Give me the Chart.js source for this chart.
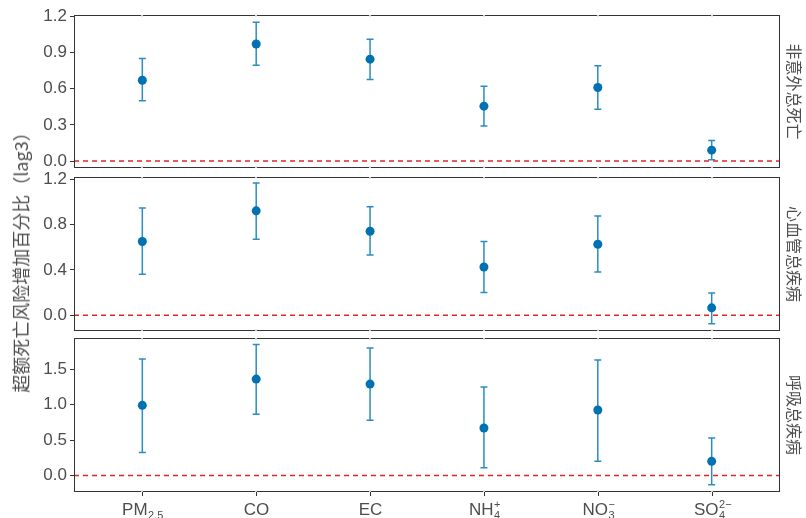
<!DOCTYPE html>
<html>
<head>
<meta charset="utf-8">
<script src="https://cdn.jsdelivr.net/npm/chart.js@4.4.1/dist/chart.umd.min.js"></script>
<style>
  body { margin: 0; background: #fff; }
  #wrap { position: relative; width: 806px; height: 518px; }
  .panel { position: absolute; left: 0; width: 806px; }
  #ytitle {
    position: absolute; left: 20px; top: 258px;
    transform: translate(-50%, -50%) rotate(-90deg);
    white-space: nowrap;
    font: 18px "Noto Sans CJK SC", sans-serif; color: #4d4d4d;
  }
</style>
</head>
<body>
<div id="wrap">
  <div class="panel" style="top:0px;height:182px"><canvas id="c1"></canvas></div>
  <div class="panel" style="top:163px;height:182px"><canvas id="c2"></canvas></div>
  <div class="panel" style="top:324px;height:194px"><canvas id="c3"></canvas></div>
  <div id="ytitle">超额死亡风险增加百分比（lag3）</div>
</div>
<script>
// categories (drawn with sub/superscripts)
const labelBase = ['PM', 'CO', 'EC', 'NH', 'NO', 'SO'];
const labelSub = ['2.5', '', '', '4', '3', '4'];
const labelSup = ['', '', '', '+', '−', '2−'];

// 非意外总死亡
const estAll = [0.67, 0.97, 0.845, 0.455, 0.61, 0.09];
const lowAll = [0.50, 0.795, 0.675, 0.29, 0.43, 0.01];
const highAll = [0.85, 1.15, 1.01, 0.62, 0.79, 0.17];
// 心血管总疾病
const estCvd = [0.65, 0.92, 0.74, 0.425, 0.625, 0.065];
const lowCvd = [0.36, 0.67, 0.53, 0.20, 0.38, -0.075];
const highCvd = [0.945, 1.165, 0.955, 0.65, 0.875, 0.195];
// 呼吸总疾病
const estResp = [0.99, 1.36, 1.29, 0.67, 0.925, 0.20];
const lowResp = [0.325, 0.865, 0.78, 0.11, 0.20, -0.13];
const highResp = [1.645, 1.85, 1.80, 1.25, 1.63, 0.53];

const yTicks1 = [0, 0.3, 0.6, 0.9, 1.2];
const yTicks2 = [0, 0.4, 0.8, 1.2];
const yTicks3 = [0, 0.5, 1.0, 1.5];

const latin = '"Liberation Sans", Arial, sans-serif';
const cjk = '"Noto Sans CJK SC", sans-serif';
const textGray = '#4d4d4d';

const panelDeco = {
    id: 'panelDeco',
    beforeDatasetsDraw(chart, args, opts) {
        const ctx = chart.ctx;
        const a = chart.chartArea;
        const xs = chart.scales.x, ys = chart.scales.y;
        ctx.save();
        // zero reference line
        const y0 = ys.getPixelForValue(0);
        ctx.strokeStyle = '#e0262b';
        ctx.lineWidth = 1.5;
        ctx.setLineDash([5, 4]);
        ctx.beginPath();
        ctx.moveTo(a.left, y0);
        ctx.lineTo(a.right, y0);
        ctx.stroke();
        ctx.setLineDash([]);
        // error bars
        ctx.strokeStyle = '#2b8cc4';
        ctx.lineWidth = 1.5;
        opts.low.forEach((lo, i) => {
            const x = xs.getPixelForValue(i + 1);
            const yl = ys.getPixelForValue(lo);
            const yh = ys.getPixelForValue(opts.high[i]);
            ctx.beginPath();
            ctx.moveTo(x, yl); ctx.lineTo(x, yh);
            ctx.moveTo(x - 3.5, yl); ctx.lineTo(x + 3.5, yl);
            ctx.moveTo(x - 3.5, yh); ctx.lineTo(x + 3.5, yh);
            ctx.stroke();
        });
        ctx.restore();
    },
    afterDraw(chart, args, opts) {
        const ctx = chart.ctx;
        const a = chart.chartArea;
        const xs = chart.scales.x;
        ctx.save();
        // panel border
        ctx.strokeStyle = '#333';
        ctx.lineWidth = 1;
        ctx.strokeRect(a.left + 0.5, a.top + 0.5, a.right - a.left - 1, a.bottom - a.top - 1);
        // faint breaks where grid lines cross the border
        ctx.fillStyle = '#d0d0d0';
        labelBase.forEach((b, i) => {
            const x = Math.round(xs.getPixelForValue(i + 1));
            ctx.fillRect(x - 1, a.top, 2, 1.5);
            ctx.fillRect(x - 1, a.bottom - 1.5, 2, 1.5);
        });
        // strip label on the right
        ctx.fillStyle = textGray;
        ctx.font = '16px ' + cjk;
        ctx.textAlign = 'center';
        ctx.textBaseline = 'middle';
        ctx.translate(a.right + 14, (a.top + a.bottom) / 2);
        ctx.rotate(Math.PI / 2);
        ctx.fillText(opts.strip, 0, 0);
        ctx.restore();

        if (opts.showX) {
            ctx.save();
            ctx.strokeStyle = '#333';
            ctx.lineWidth = 1;
            labelBase.forEach((base, i) => {
                const x = Math.round(xs.getPixelForValue(i + 1)) + 0.5;
                ctx.beginPath();
                ctx.moveTo(x, a.bottom);
                ctx.lineTo(x, a.bottom + 4);
                ctx.stroke();
                const y = a.bottom + 23;
                ctx.fillStyle = textGray;
                ctx.textBaseline = 'alphabetic';
                ctx.textAlign = 'left';
                ctx.font = '17px ' + latin;
                const bw = ctx.measureText(base).width;
                ctx.font = '11px ' + latin;
                const sw = Math.max(ctx.measureText(labelSub[i]).width, ctx.measureText(labelSup[i]).width);
                const left = x - (bw + sw) / 2;
                ctx.font = '17px ' + latin;
                ctx.fillText(base, left, y);
                ctx.font = '11px ' + latin;
                if (labelSub[i]) ctx.fillText(labelSub[i], left + bw + 0.5, y + 4);
                if (labelSup[i]) ctx.fillText(labelSup[i], left + bw + 0.5, y - 7);
            });
            ctx.restore();
        }
    }
};

function makePanel(id, est, low, high, yMin, yMax, yTicks, strip, padTop, padBottom, showX) {
    const points = est.map((v, i) => ({ x: i + 1, y: v }));
    return new Chart(document.getElementById(id), {
        type: 'scatter',
        data: {
            datasets: [{
                data: points,
                backgroundColor: '#0072B2',
                borderWidth: 0,
                pointRadius: 4.5,
                pointHoverRadius: 4.5
            }]
        },
        options: {
            responsive: true,
            maintainAspectRatio: false,
            animation: false,
            layout: { padding: { left: 0, right: 26, top: padTop, bottom: padBottom } },
            scales: {
                x: { type: 'linear', min: 0.4, max: 6.6, display: false },
                y: {
                    min: yMin,
                    max: yMax,
                    afterBuildTicks: s => { s.ticks = yTicks.map(v => ({ value: v })); },
                    afterFit: s => { s.width = 74; },
                    ticks: {
                        autoSkip: false,
                        padding: 3,
                        color: textGray,
                        font: { family: latin, size: 17 },
                        callback: v => Number(v).toFixed(1)
                    },
                    grid: { drawOnChartArea: false, drawTicks: true, tickLength: 4, tickColor: '#333' },
                    border: { display: false }
                }
            },
            plugins: {
                legend: { display: false },
                tooltip: { enabled: false },
                panelDeco: { low: low, high: high, strip: strip, showX: showX }
            }
        },
        plugins: [panelDeco]
    });
}

makePanel('c1', estAll, lowAll, highAll, -0.058, 1.211, yTicks1, '非意外总死亡', 15, 14, false);
makePanel('c2', estCvd, lowCvd, highCvd, -0.139, 1.218, yTicks2, '心血管总疾病', 14, 14, false);
makePanel('c3', estResp, lowResp, highResp, -0.232, 1.94, yTicks3, '呼吸总疾病', 14, 26, true);
</script>
</body>
</html>
